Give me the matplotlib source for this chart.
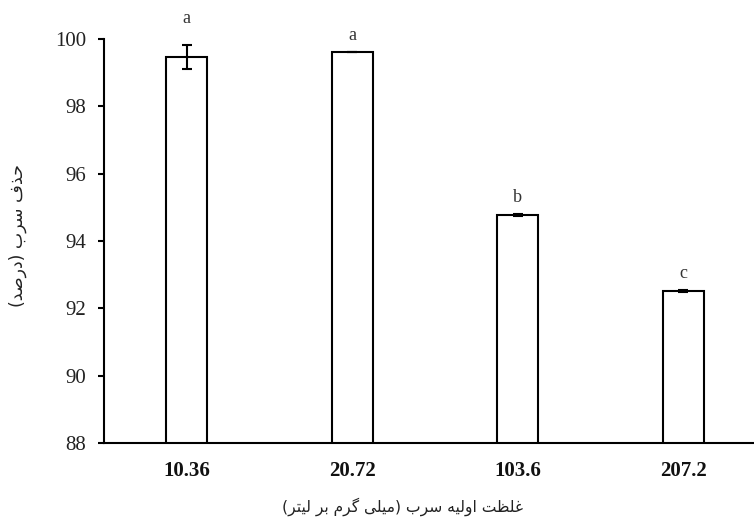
import matplotlib
matplotlib.use("Agg")
import matplotlib.pyplot as plt
import numpy as np

# Lead removal at each initial concentration
concentrations = ["10.36", "20.72", "103.6", "207.2"]
removal = [99.47, 99.61, 94.77, 92.52]
removal_err = [0.35, 0.0, 0.03, 0.03]
groups = ["a", "a", "b", "c"]
y_ticks = [88, 90, 92, 94, 96, 98, 100]

x_title = "غلظت اولیه سرب (میلی گرم بر لیتر)"
y_title = "حذف سرب (درصد)"

# --- minimal Arabic/Persian shaping (matplotlib has no complex text layout) ---
# letter: (isolated, final, initial, medial); None for initial/medial => right-joining only
FORMS = {
    "ا": (0xFE8D, 0xFE8E, None, None),
    "ب": (0xFE8F, 0xFE90, 0xFE91, 0xFE92),
    "ت": (0xFE95, 0xFE96, 0xFE97, 0xFE98),
    "ح": (0xFEA1, 0xFEA2, 0xFEA3, 0xFEA4),
    "د": (0xFEA9, 0xFEAA, None, None),
    "ذ": (0xFEAB, 0xFEAC, None, None),
    "ر": (0xFEAD, 0xFEAE, None, None),
    "س": (0xFEB1, 0xFEB2, 0xFEB3, 0xFEB4),
    "ص": (0xFEB9, 0xFEBA, 0xFEBB, 0xFEBC),
    "ظ": (0xFEC5, 0xFEC6, 0xFEC7, 0xFEC8),
    "غ": (0xFECD, 0xFECE, 0xFECF, 0xFED0),
    "ف": (0xFED1, 0xFED2, 0xFED3, 0xFED4),
    "ل": (0xFEDD, 0xFEDE, 0xFEDF, 0xFEE0),
    "م": (0xFEE1, 0xFEE2, 0xFEE3, 0xFEE4),
    "ه": (0xFEE9, 0xFEEA, 0xFEEB, 0xFEEC),
    "و": (0xFEED, 0xFEEE, None, None),
    "ی": (0xFBFC, 0xFBFD, 0xFBFE, 0xFBFF),
    "گ": (0xFB92, 0xFB93, 0xFB94, 0xFB95),
}
MIRROR = {"(": ")", ")": "("}


def shape_rtl(text):
    out = []
    n = len(text)
    for i, ch in enumerate(text):
        if ch not in FORMS:
            out.append(ch)
            continue
        iso, fin, ini, med = FORMS[ch]
        prev = text[i - 1] if i > 0 else ""
        nxt = text[i + 1] if i < n - 1 else ""
        join_prev = prev in FORMS and FORMS[prev][2] is not None
        join_next = ini is not None and nxt in FORMS
        if join_prev and join_next:
            code = med
        elif join_prev:
            code = fin
        elif join_next:
            code = ini
        else:
            code = iso
        out.append(chr(code))
    return "".join(MIRROR.get(c, c) for c in reversed(out))


plt.rcParams["font.family"] = ["Liberation Serif", "DejaVu Serif"]

W, H = 754, 522
fig = plt.figure(figsize=(W / 100, H / 100), dpi=100)
ax = fig.add_axes([104 / W, 1 - 443 / H, (766 - 104) / W, 404 / H])

x = np.arange(len(concentrations))
ax.bar(x, removal, width=0.25, color="white", edgecolor="black", linewidth=1.5,
       zorder=2)
ax.errorbar(x, removal, yerr=removal_err, fmt="none", ecolor="black",
            elinewidth=1.5, capsize=3.5, capthick=1.5, zorder=3)

# significance letters above each bar
letter_pad = [27, 17, 17, 16]  # pixels above bar/error top
for xi, v, e, g, p in zip(x, removal, removal_err, groups, letter_pad):
    ax.annotate(g, (xi, v + e), xytext=(0, p * 72 / 100), textcoords="offset points",
                ha="center", va="center", fontsize=13, color="#333333",
                annotation_clip=False)

ax.set_xlim(-0.5, 3.5)
ax.set_ylim(88, 100)
ax.set_yticks(y_ticks)
ax.set_xticks(x)
ax.set_xticklabels(concentrations, fontweight="bold", fontsize=15)
ax.tick_params(axis="y", direction="out", length=4.5, width=1.5, labelsize=15,
               pad=8.5, labelcolor="#222222")
ax.tick_params(axis="x", length=0, pad=13, labelcolor="#111111")

for side in ("top", "right"):
    ax.spines[side].set_visible(False)
for side in ("left", "bottom"):
    ax.spines[side].set_linewidth(1.5)

fig.text(403 / W, 1 - 507 / H, shape_rtl(x_title), family="DejaVu Sans",
         fontsize=11.2, ha="center", va="center", color="#222222")
fig.text(18 / W, 1 - 236 / H, shape_rtl(y_title), family="DejaVu Sans",
         fontsize=12.5, ha="center", va="center", rotation=90, color="#222222")

fig.savefig("out.png", dpi=100)
